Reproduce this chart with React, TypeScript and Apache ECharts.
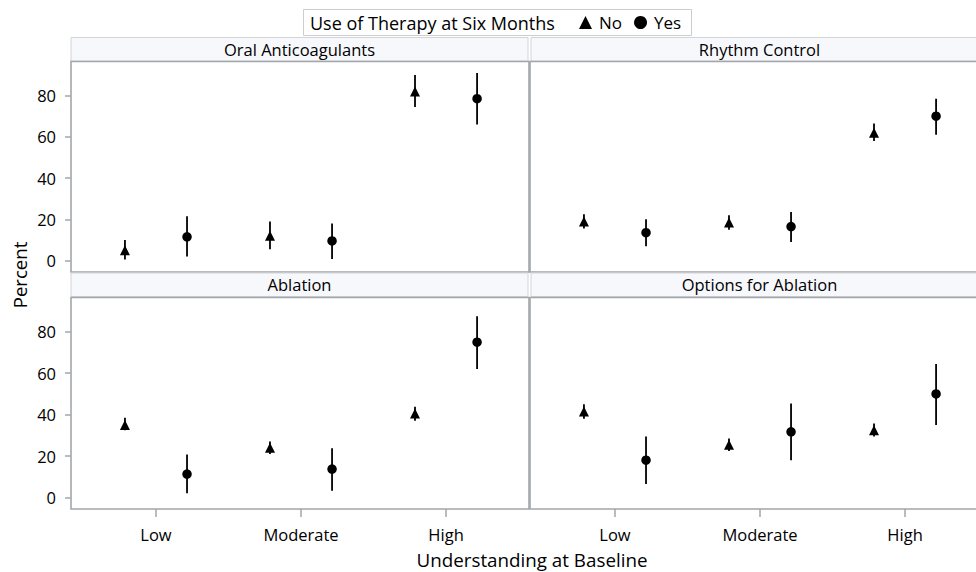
import React, { useEffect, useRef } from 'react';
import * as echarts from 'echarts';

// ---------------- data ----------------
const CATEGORIES = ['Low', 'Moderate', 'High'];
const PANELS = ['Oral Anticoagulants', 'Rhythm Control', 'Ablation', 'Options for Ablation'];
const Y_TICKS = [0, 20, 40, 60, 80];

// per panel (in PANELS order), per category (in CATEGORIES order)
const noPct = [
  [5, 12, 82],
  [19, 18.5, 62],
  [35, 24, 40.5],
  [41.5, 25.5, 32.5],
];
const noLower = [
  [0.5, 5.5, 74.5],
  [15.5, 15, 58],
  [32.5, 21, 37],
  [38, 22.5, 29.5],
];
const noUpper = [
  [10, 19, 90],
  [22.5, 22, 66.5],
  [38.5, 27, 43.8],
  [45, 28.5, 35.7],
];
const yesPct = [
  [11.5, 9.5, 78.5],
  [13.5, 16.5, 70],
  [11.3, 13.7, 75],
  [18, 31.7, 50],
];
const yesLower = [
  [2, 0.7, 66],
  [7, 9, 61],
  [2, 3.2, 62],
  [6.5, 18, 35],
];
const yesUpper = [
  [21.5, 18, 91],
  [20, 23.5, 78.5],
  [20.8, 23.8, 87.5],
  [29.5, 45.4, 64.5],
];

// ---------------- layout / style ----------------
const FONT = "'Open Sans', 'Noto Sans', sans-serif";
const TEXT = '#000';
const WALL = '#a3a7ab';
const DODGE = 0.214;
const X_MIN = -0.586;
const X_MAX = 2.572;
const Y_MIN = -5.55;
const Y_MAX = 96.55;
const FRAME_X = [71, 530];
const FRAME_W = 458;
const FRAME_Y = [61.5, 297.5];
const FRAME_H = [210.5, 211.5];
const HEADER_X = [71, 531];
const HEADER_W = 457;
const HEADER_Y = [37.5, 273];
const HEADER_H = 23.5;

function buildOption() {
  const grid: any[] = [];
  const xAxis: any[] = [];
  const yAxis: any[] = [];
  const series: any[] = [];
  const graphic: any[] = [];
  const xTickValues = CATEGORIES.map((_, k) => k);

  PANELS.forEach((title, i) => {
    const col = i % 2;
    const row = Math.floor(i / 2);
    grid.push({
      left: FRAME_X[col],
      top: FRAME_Y[row],
      width: FRAME_W,
      height: FRAME_H[row],
      containLabel: false,
      outerBoundsMode: 'none',
    });
    xAxis.push({
      gridIndex: i,
      type: 'value',
      min: X_MIN,
      max: X_MAX,
      show: row === 1,
      position: 'bottom',
      axisLine: { show: false, onZero: false },
      axisTick: {
        show: true,
        length: 8,
        customValues: xTickValues,
        lineStyle: { color: WALL, width: 1.5 },
      },
      axisLabel: {
        customValues: xTickValues,
        formatter: (v: number) => CATEGORIES[Math.round(v)] ?? '',
        margin: 16.5,
        fontSize: 16.5,
        fontFamily: FONT,
        color: TEXT,
      },
      splitLine: { show: false },
    });
    yAxis.push({
      gridIndex: i,
      type: 'value',
      min: Y_MIN,
      max: Y_MAX,
      show: col === 0,
      position: 'left',
      axisLine: { show: false, onZero: false },
      axisTick: {
        show: true,
        length: 6,
        customValues: Y_TICKS,
        lineStyle: { color: WALL, width: 1.5 },
      },
      axisLabel: {
        customValues: Y_TICKS,
        margin: 15,
        fontSize: 16.5,
        fontFamily: FONT,
        color: TEXT,
      },
      splitLine: { show: false },
    });

    const bars: number[][] = [];
    CATEGORIES.forEach((_, k) => {
      bars.push([k - DODGE, noLower[i][k], noUpper[i][k]]);
      bars.push([k + DODGE, yesLower[i][k], yesUpper[i][k]]);
    });
    series.push({
      type: 'custom',
      name: 'ci' + i,
      xAxisIndex: i,
      yAxisIndex: i,
      clip: false,
      silent: true,
      encode: { x: 0, y: [1, 2] },
      data: bars,
      renderItem: (_p: any, api: any) => {
        const x = api.value(0);
        const a = api.coord([x, api.value(1)]);
        const b = api.coord([x, api.value(2)]);
        return {
          type: 'line',
          shape: { x1: a[0], y1: a[1], x2: b[0], y2: b[1] },
          style: { stroke: '#000', lineWidth: 1.8 },
        };
      },
    });
    series.push({
      type: 'scatter',
      name: 'No',
      xAxisIndex: i,
      yAxisIndex: i,
      clip: false,
      symbol: 'triangle',
      symbolSize: 10,
      itemStyle: { color: '#000', opacity: 1 },
      data: CATEGORIES.map((_, k) => [k - DODGE, noPct[i][k]]),
      z: 3,
    });
    series.push({
      type: 'scatter',
      name: 'Yes',
      xAxisIndex: i,
      yAxisIndex: i,
      clip: false,
      symbol: 'circle',
      symbolSize: 9.5,
      itemStyle: { color: '#000', opacity: 1 },
      data: CATEGORIES.map((_, k) => [k + DODGE, yesPct[i][k]]),
      z: 3,
    });

    // header strip
    graphic.push({
      type: 'rect',
      z: 1,
      shape: { x: HEADER_X[col], y: HEADER_Y[row], width: HEADER_W, height: HEADER_H },
      style: { fill: '#f7f8fc', stroke: '#d2d4d7', lineWidth: 1 },
    });
    graphic.push({
      type: 'text',
      z: 2,
      x: HEADER_X[col] + HEADER_W / 2,
      y: HEADER_Y[row] + HEADER_H / 2,
      style: {
        text: title,
        fontSize: 16.5,
        fontFamily: FONT,
        fill: TEXT,
        align: 'center',
        verticalAlign: 'middle',
      },
    });
    // plot wall
    graphic.push({
      type: 'rect',
      z: 1,
      shape: { x: FRAME_X[col], y: FRAME_Y[row], width: FRAME_W, height: FRAME_H[row] },
      style: { fill: 'none', stroke: WALL, lineWidth: 1.6 },
    });
  });

  // legend box + title
  graphic.push({
    type: 'rect',
    z: 0,
    shape: { x: 303.5, y: 9.5, width: 388, height: 26 },
    style: { fill: '#fff', stroke: '#cbcdd0', lineWidth: 1 },
  });
  graphic.push({
    type: 'text',
    z: 2,
    x: 310,
    y: 22.5,
    style: {
      text: 'Use of Therapy at Six Months',
      fontSize: 18,
      fontFamily: FONT,
      fill: TEXT,
      align: 'left',
      verticalAlign: 'middle',
    },
  });
  // axis titles
  graphic.push({
    type: 'text',
    z: 2,
    x: 19,
    y: 275,
    rotation: Math.PI / 2,
    style: {
      text: 'Percent',
      fontSize: 18.6,
      fontFamily: FONT,
      fill: TEXT,
      align: 'center',
      verticalAlign: 'middle',
    },
  });
  graphic.push({
    type: 'text',
    z: 2,
    x: 532,
    y: 560,
    style: {
      text: 'Understanding at Baseline',
      fontSize: 18.8,
      fontFamily: FONT,
      fill: TEXT,
      align: 'center',
      verticalAlign: 'middle',
    },
  });

  return {
    animation: false,
    backgroundColor: '#fff',
    grid,
    xAxis,
    yAxis,
    series,
    graphic,
    legend: {
      data: [
        { name: 'No', icon: 'triangle' },
        { name: 'Yes', icon: 'circle' },
      ],
      left: 579,
      top: 14,
      padding: 0,
      itemWidth: 13,
      itemHeight: 13,
      itemGap: 12,
      selectedMode: false,
      textStyle: { fontSize: 17, fontFamily: FONT, color: TEXT, padding: [0, 0, 0, 2] },
      z: 5,
    },
  };
}

export default function App() {
  const ref = useRef<HTMLDivElement>(null);
  useEffect(() => {
    if (!ref.current) return;
    const chart = echarts.init(ref.current, null, { renderer: 'svg' });
    chart.setOption(buildOption() as any);
    return () => {
      chart.dispose();
    };
  }, []);
  return (
    <div
      ref={ref}
      style={{ position: 'fixed', left: 0, top: 0, width: 976, height: 572, background: '#fff' }}
    />
  );
}
